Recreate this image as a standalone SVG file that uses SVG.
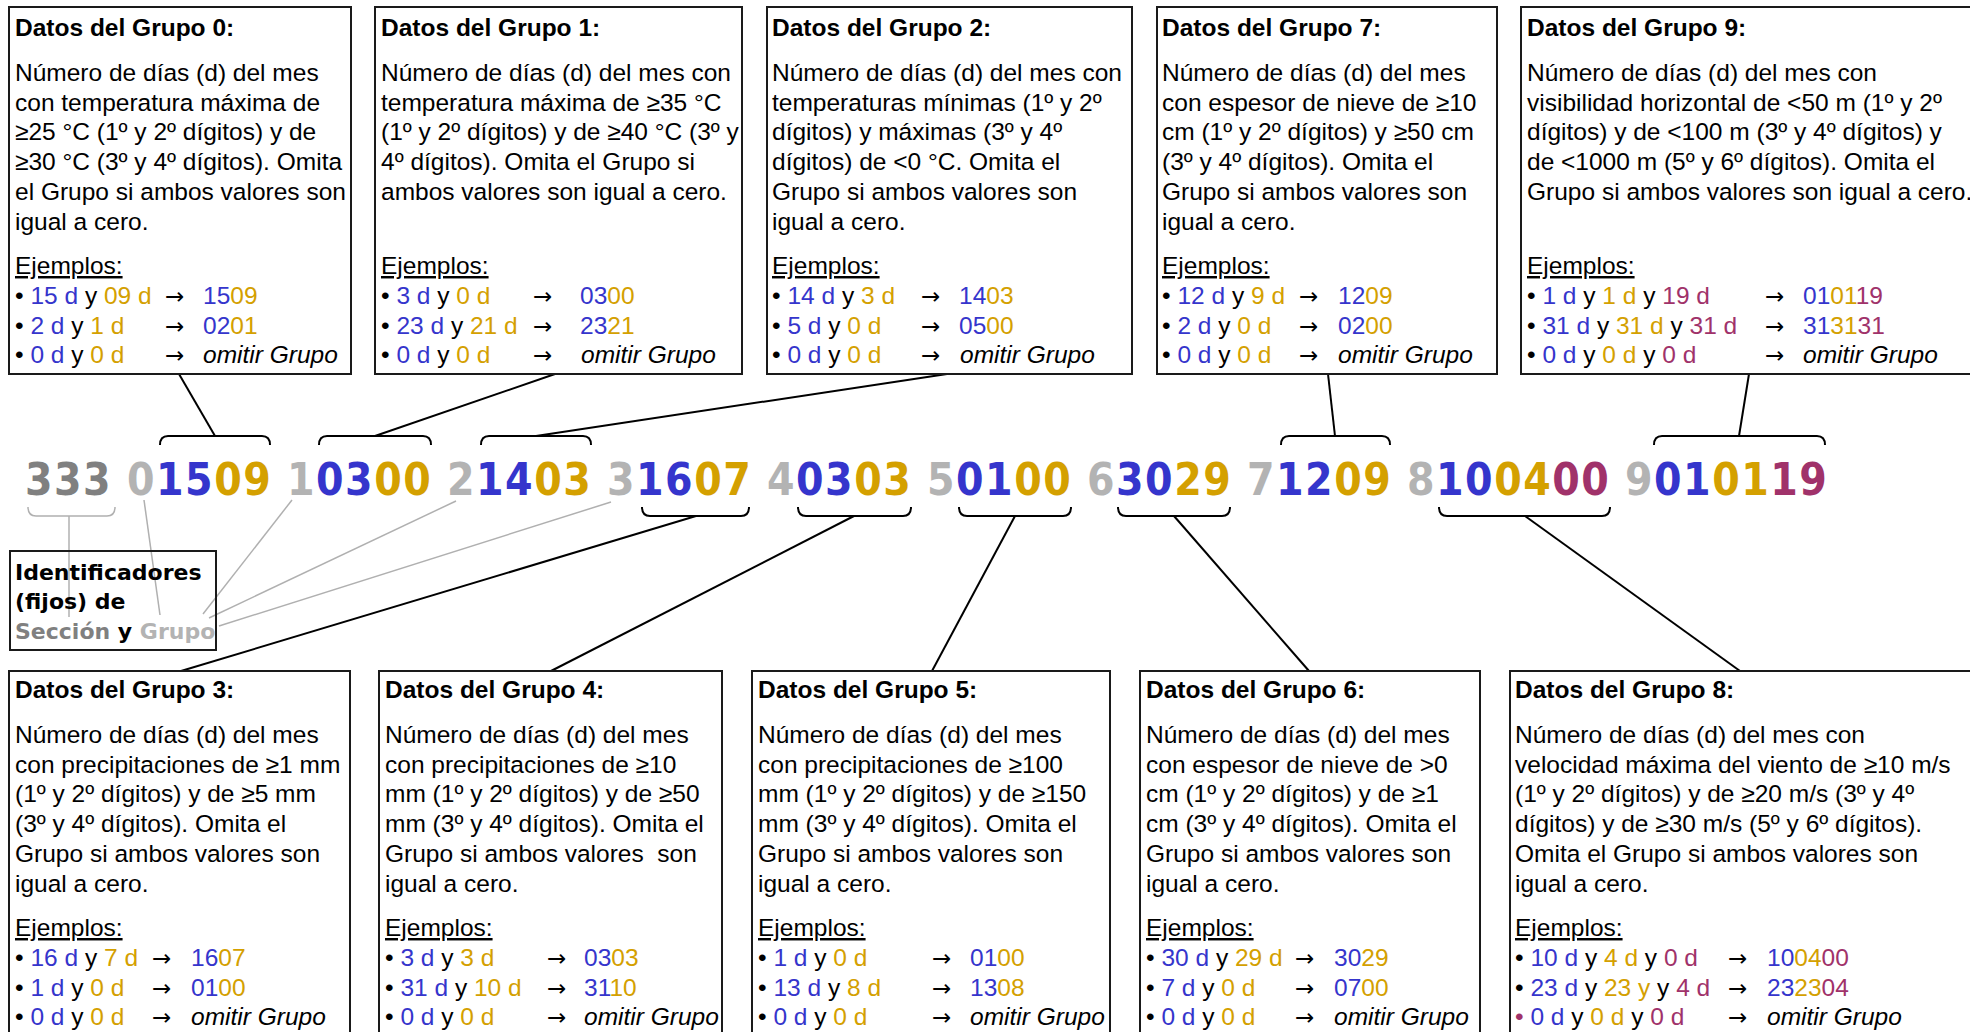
<svg xmlns="http://www.w3.org/2000/svg" width="1970" height="1032" viewBox="0 0 1970 1032">
<style>
.box{fill:none;stroke:#1a1a1a;stroke-width:2}
.t{font-family:'Liberation Sans',Arial,sans-serif;font-size:24.5px;fill:#000}
.h{font-weight:bold}
.u{text-decoration:underline}
.i{font-style:italic}
.b{fill:#3535CC}
.g{fill:#D4A000}
.m{fill:#A0326A}
.ar{font-family:'DejaVu Sans',sans-serif;font-size:23px}
.code{font-family:'DejaVu Sans Condensed','DejaVu Sans',sans-serif;font-stretch:condensed;font-weight:bold;font-size:44px;letter-spacing:1.5px}
.lbl{font-family:'DejaVu Sans','Liberation Sans',sans-serif;font-weight:bold;font-size:22px;fill:#000}
.sec{fill:#808080}
.gid{fill:#B3B3B3}
.con{fill:none;stroke:#000;stroke-width:2}
.gcon{fill:none;stroke:#B0B0B0;stroke-width:1.5}
</style>

<g id="connectors">
  <path class="con" d="M160,445 Q160,436 168,436 H262 Q270,436 270,445"/>
  <path class="con" d="M319,445 Q319,436 327,436 H423 Q431,436 431,445"/>
  <path class="con" d="M481,445 Q481,436 489,436 H583 Q591,436 591,445"/>
  <path class="con" d="M1281,445 Q1281,436 1289,436 H1382 Q1390,436 1390,445"/>
  <path class="con" d="M1654,445 Q1654,436 1662,436 H1817 Q1825,436 1825,445"/>
  <line class="con" x1="215" y1="436" x2="179" y2="374"/>
  <line class="con" x1="375" y1="436" x2="555" y2="374"/>
  <line class="con" x1="536" y1="436" x2="947" y2="374"/>
  <line class="con" x1="1335" y1="436" x2="1328" y2="374"/>
  <line class="con" x1="1739" y1="436" x2="1749" y2="374"/>
  <path class="con" d="M642,507 Q642,516 650,516 H741 Q749,516 749,507"/>
  <path class="con" d="M798,507 Q798,516 806,516 H903 Q911,516 911,507"/>
  <path class="con" d="M959,507 Q959,516 967,516 H1063 Q1071,516 1071,507"/>
  <path class="con" d="M1118,507 Q1118,516 1126,516 H1222 Q1230,516 1230,507"/>
  <path class="con" d="M1439,507 Q1439,516 1447,516 H1602 Q1610,516 1610,507"/>
  <line class="con" x1="696" y1="516" x2="181" y2="671"/>
  <line class="con" x1="854" y1="516" x2="551" y2="671"/>
  <line class="con" x1="1015" y1="516" x2="932" y2="671"/>
  <line class="con" x1="1174" y1="516" x2="1309" y2="671"/>
  <line class="con" x1="1525" y1="516" x2="1740" y2="671"/>
  <path class="gcon" d="M28,507 Q28,516 36,516 H107 Q115,516 115,507"/>
  <line class="gcon" x1="69" y1="516" x2="69" y2="617"/>
  <line class="gcon" x1="144" y1="500" x2="160" y2="615"/>
  <line class="gcon" x1="292" y1="500" x2="203" y2="614"/>
  <line class="gcon" x1="456" y1="501" x2="209" y2="618"/>
  <line class="gcon" x1="611" y1="502" x2="219" y2="626"/>
</g>

<g id="code">
  <text class="code" y="495">
    <tspan x="25" class="sec">333</tspan>
    <tspan x="127" class="gid">0</tspan><tspan class="b">15</tspan><tspan class="g">09</tspan>
    <tspan x="287" class="gid">1</tspan><tspan class="b">03</tspan><tspan class="g">00</tspan>
    <tspan x="447" class="gid">2</tspan><tspan class="b">14</tspan><tspan class="g">03</tspan>
    <tspan x="607" class="gid">3</tspan><tspan class="b">16</tspan><tspan class="g">07</tspan>
    <tspan x="767" class="gid">4</tspan><tspan class="b">03</tspan><tspan class="g">03</tspan>
    <tspan x="927" class="gid">5</tspan><tspan class="b">01</tspan><tspan class="g">00</tspan>
    <tspan x="1087" class="gid">6</tspan><tspan class="b">30</tspan><tspan class="g">29</tspan>
    <tspan x="1247" class="gid">7</tspan><tspan class="b">12</tspan><tspan class="g">09</tspan>
    <tspan x="1407" class="gid">8</tspan><tspan class="b">10</tspan><tspan class="g">04</tspan><tspan class="m">00</tspan>
    <tspan x="1625" class="gid">9</tspan><tspan class="b">01</tspan><tspan class="g">01</tspan><tspan class="m">19</tspan>
  </text>
</g>

<g id="ident">
  <rect class="box" x="10" y="551" width="206" height="99"/>
  <text class="lbl" x="15" y="580">Identificadores</text>
  <text class="lbl" x="15" y="609">(fijos) de</text>
  <text class="lbl" x="15" y="639"><tspan class="sec">Sección</tspan> y <tspan class="gid">Grupo</tspan></text>
</g>

<g id="g0" class="t">
  <rect class="box" x="9" y="7" width="342" height="367"/>
  <text x="15" y="36" class="h">Datos del Grupo 0:</text>
  <text x="15" y="81">Número de días (d) del mes</text>
  <text x="15" y="110.7">con temperatura máxima de</text>
  <text x="15" y="140.4">≥25 °C (1º y 2º dígitos) y de</text>
  <text x="15" y="170.1">≥30 °C (3º y 4º dígitos). Omita</text>
  <text x="15" y="199.8">el Grupo si ambos valores son</text>
  <text x="15" y="229.5">igual a cero.</text>
  <text x="15" y="274" class="u">Ejemplos:</text>
  <text x="15" y="304">• <tspan class="b">15 d</tspan> y <tspan class="g">09 d</tspan></text>
  <text x="165" y="304" class="ar">→</text>
  <text x="203" y="304"><tspan class="b">15</tspan><tspan class="g">09</tspan></text>
  <text x="15" y="333.5">• <tspan class="b">2 d</tspan> y <tspan class="g">1 d</tspan></text>
  <text x="165" y="333.5" class="ar">→</text>
  <text x="203" y="333.5"><tspan class="b">02</tspan><tspan class="g">01</tspan></text>
  <text x="15" y="363">• <tspan class="b">0 d</tspan> y <tspan class="g">0 d</tspan></text>
  <text x="165" y="363" class="ar">→</text>
  <text x="203" y="363" class="i">omitir Grupo</text>
</g>

<g id="g1" class="t">
  <rect class="box" x="375" y="7" width="367" height="367"/>
  <text x="381" y="36" class="h">Datos del Grupo 1:</text>
  <text x="381" y="81">Número de días (d) del mes con</text>
  <text x="381" y="110.7">temperatura máxima de ≥35 °C</text>
  <text x="381" y="140.4">(1º y 2º dígitos) y de ≥40 °C (3º y</text>
  <text x="381" y="170.1">4º dígitos). Omita el Grupo si</text>
  <text x="381" y="199.8">ambos valores son igual a cero.</text>
  <text x="381" y="274" class="u">Ejemplos:</text>
  <text x="381" y="304">• <tspan class="b">3 d</tspan> y <tspan class="g">0 d</tspan></text>
  <text x="533" y="304" class="ar">→</text>
  <text x="580" y="304"><tspan class="b">03</tspan><tspan class="g">00</tspan></text>
  <text x="381" y="333.5">• <tspan class="b">23 d</tspan> y <tspan class="g">21 d</tspan></text>
  <text x="533" y="333.5" class="ar">→</text>
  <text x="580" y="333.5"><tspan class="b">23</tspan><tspan class="g">21</tspan></text>
  <text x="381" y="363">• <tspan class="b">0 d</tspan> y <tspan class="g">0 d</tspan></text>
  <text x="533" y="363" class="ar">→</text>
  <text x="581" y="363" class="i">omitir Grupo</text>
</g>

<g id="g2" class="t">
  <rect class="box" x="767" y="7" width="365" height="367"/>
  <text x="772" y="36" class="h">Datos del Grupo 2:</text>
  <text x="772" y="81">Número de días (d) del mes con</text>
  <text x="772" y="110.7">temperaturas mínimas (1º y 2º</text>
  <text x="772" y="140.4">dígitos) y máximas (3º y 4º</text>
  <text x="772" y="170.1">dígitos) de &lt;0 °C. Omita el</text>
  <text x="772" y="199.8">Grupo si ambos valores son</text>
  <text x="772" y="229.5">igual a cero.</text>
  <text x="772" y="274" class="u">Ejemplos:</text>
  <text x="772" y="304">• <tspan class="b">14 d</tspan> y <tspan class="g">3 d</tspan></text>
  <text x="921" y="304" class="ar">→</text>
  <text x="959" y="304"><tspan class="b">14</tspan><tspan class="g">03</tspan></text>
  <text x="772" y="333.5">• <tspan class="b">5 d</tspan> y <tspan class="g">0 d</tspan></text>
  <text x="921" y="333.5" class="ar">→</text>
  <text x="959" y="333.5"><tspan class="b">05</tspan><tspan class="g">00</tspan></text>
  <text x="772" y="363">• <tspan class="b">0 d</tspan> y <tspan class="g">0 d</tspan></text>
  <text x="921" y="363" class="ar">→</text>
  <text x="960" y="363" class="i">omitir Grupo</text>
</g>

<g id="g7" class="t">
  <rect class="box" x="1157" y="7" width="340" height="367"/>
  <text x="1162" y="36" class="h">Datos del Grupo 7:</text>
  <text x="1162" y="81">Número de días (d) del mes</text>
  <text x="1162" y="110.7">con espesor de nieve de ≥10</text>
  <text x="1162" y="140.4">cm (1º y 2º dígitos) y ≥50 cm</text>
  <text x="1162" y="170.1">(3º y 4º dígitos). Omita el</text>
  <text x="1162" y="199.8">Grupo si ambos valores son</text>
  <text x="1162" y="229.5">igual a cero.</text>
  <text x="1162" y="274" class="u">Ejemplos:</text>
  <text x="1162" y="304">• <tspan class="b">12 d</tspan> y <tspan class="g">9 d</tspan></text>
  <text x="1299" y="304" class="ar">→</text>
  <text x="1338" y="304"><tspan class="b">12</tspan><tspan class="g">09</tspan></text>
  <text x="1162" y="333.5">• <tspan class="b">2 d</tspan> y <tspan class="g">0 d</tspan></text>
  <text x="1299" y="333.5" class="ar">→</text>
  <text x="1338" y="333.5"><tspan class="b">02</tspan><tspan class="g">00</tspan></text>
  <text x="1162" y="363">• <tspan class="b">0 d</tspan> y <tspan class="g">0 d</tspan></text>
  <text x="1299" y="363" class="ar">→</text>
  <text x="1338" y="363" class="i">omitir Grupo</text>
</g>

<g id="g9" class="t">
  <rect class="box" x="1521" y="7" width="470" height="367"/>
  <text x="1527" y="36" class="h">Datos del Grupo 9:</text>
  <text x="1527" y="81">Número de días (d) del mes con</text>
  <text x="1527" y="110.7">visibilidad horizontal de &lt;50 m (1º y 2º</text>
  <text x="1527" y="140.4">dígitos) y de &lt;100 m (3º y 4º dígitos) y</text>
  <text x="1527" y="170.1">de &lt;1000 m (5º y 6º dígitos). Omita el</text>
  <text x="1527" y="199.8">Grupo si ambos valores son igual a cero.</text>
  <text x="1527" y="274" class="u">Ejemplos:</text>
  <text x="1527" y="304">• <tspan class="b">1 d</tspan> y <tspan class="g">1 d</tspan> y <tspan class="m">19 d</tspan></text>
  <text x="1765" y="304" class="ar">→</text>
  <text x="1803" y="304"><tspan class="b">01</tspan><tspan class="g">01</tspan><tspan class="m">19</tspan></text>
  <text x="1527" y="333.5">• <tspan class="b">31 d</tspan> y <tspan class="g">31 d</tspan> y <tspan class="m">31 d</tspan></text>
  <text x="1765" y="333.5" class="ar">→</text>
  <text x="1803" y="333.5"><tspan class="b">31</tspan><tspan class="g">31</tspan><tspan class="m">31</tspan></text>
  <text x="1527" y="363">• <tspan class="b">0 d</tspan> y <tspan class="g">0 d</tspan> y <tspan class="m">0 d</tspan></text>
  <text x="1765" y="363" class="ar">→</text>
  <text x="1803" y="363" class="i">omitir Grupo</text>
</g>

<g id="g3" class="t">
  <rect class="box" x="9" y="671" width="341" height="380"/>
  <text x="15" y="698" class="h">Datos del Grupo 3:</text>
  <text x="15" y="743">Número de días (d) del mes</text>
  <text x="15" y="772.7">con precipitaciones de ≥1 mm</text>
  <text x="15" y="802.4">(1º y 2º dígitos) y de ≥5 mm</text>
  <text x="15" y="832.1">(3º y 4º dígitos). Omita el</text>
  <text x="15" y="861.8">Grupo si ambos valores son</text>
  <text x="15" y="891.5">igual a cero.</text>
  <text x="15" y="936" class="u">Ejemplos:</text>
  <text x="15" y="966">• <tspan class="b">16 d</tspan> y <tspan class="g">7 d</tspan></text>
  <text x="152" y="966" class="ar">→</text>
  <text x="191" y="966"><tspan class="b">16</tspan><tspan class="g">07</tspan></text>
  <text x="15" y="995.5">• <tspan class="b">1 d</tspan> y <tspan class="g">0 d</tspan></text>
  <text x="152" y="995.5" class="ar">→</text>
  <text x="191" y="995.5"><tspan class="b">01</tspan><tspan class="g">00</tspan></text>
  <text x="15" y="1025">• <tspan class="b">0 d</tspan> y <tspan class="g">0 d</tspan></text>
  <text x="152" y="1025" class="ar">→</text>
  <text x="191" y="1025" class="i">omitir Grupo</text>
</g>

<g id="g4" class="t">
  <rect class="box" x="379" y="671" width="343" height="380"/>
  <text x="385" y="698" class="h">Datos del Grupo 4:</text>
  <text x="385" y="743">Número de días (d) del mes</text>
  <text x="385" y="772.7">con precipitaciones de ≥10</text>
  <text x="385" y="802.4">mm (1º y 2º dígitos) y de ≥50</text>
  <text x="385" y="832.1">mm (3º y 4º dígitos). Omita el</text>
  <text x="385" y="861.8" style="white-space:pre">Grupo si ambos valores  son</text>
  <text x="385" y="891.5">igual a cero.</text>
  <text x="385" y="936" class="u">Ejemplos:</text>
  <text x="385" y="966">• <tspan class="b">3 d</tspan> y <tspan class="g">3 d</tspan></text>
  <text x="547" y="966" class="ar">→</text>
  <text x="584" y="966"><tspan class="b">03</tspan><tspan class="g">03</tspan></text>
  <text x="385" y="995.5">• <tspan class="b">31 d</tspan> y <tspan class="g">10 d</tspan></text>
  <text x="547" y="995.5" class="ar">→</text>
  <text x="584" y="995.5"><tspan class="b">31</tspan><tspan class="g">10</tspan></text>
  <text x="385" y="1025">• <tspan class="b">0 d</tspan> y <tspan class="g">0 d</tspan></text>
  <text x="547" y="1025" class="ar">→</text>
  <text x="584" y="1025" class="i">omitir Grupo</text>
</g>

<g id="g5" class="t">
  <rect class="box" x="752" y="671" width="358" height="380"/>
  <text x="758" y="698" class="h">Datos del Grupo 5:</text>
  <text x="758" y="743">Número de días (d) del mes</text>
  <text x="758" y="772.7">con precipitaciones de ≥100</text>
  <text x="758" y="802.4">mm (1º y 2º dígitos) y de ≥150</text>
  <text x="758" y="832.1">mm (3º y 4º dígitos). Omita el</text>
  <text x="758" y="861.8">Grupo si ambos valores son</text>
  <text x="758" y="891.5">igual a cero.</text>
  <text x="758" y="936" class="u">Ejemplos:</text>
  <text x="758" y="966">• <tspan class="b">1 d</tspan> y <tspan class="g">0 d</tspan></text>
  <text x="932" y="966" class="ar">→</text>
  <text x="970" y="966"><tspan class="b">01</tspan><tspan class="g">00</tspan></text>
  <text x="758" y="995.5">• <tspan class="b">13 d</tspan> y <tspan class="g">8 d</tspan></text>
  <text x="932" y="995.5" class="ar">→</text>
  <text x="970" y="995.5"><tspan class="b">13</tspan><tspan class="g">08</tspan></text>
  <text x="758" y="1025">• <tspan class="b">0 d</tspan> y <tspan class="g">0 d</tspan></text>
  <text x="932" y="1025" class="ar">→</text>
  <text x="970" y="1025" class="i">omitir Grupo</text>
</g>

<g id="g6" class="t">
  <rect class="box" x="1140" y="671" width="340" height="380"/>
  <text x="1146" y="698" class="h">Datos del Grupo 6:</text>
  <text x="1146" y="743">Número de días (d) del mes</text>
  <text x="1146" y="772.7">con espesor de nieve de &gt;0</text>
  <text x="1146" y="802.4">cm (1º y 2º dígitos) y de ≥1</text>
  <text x="1146" y="832.1">cm (3º y 4º dígitos). Omita el</text>
  <text x="1146" y="861.8">Grupo si ambos valores son</text>
  <text x="1146" y="891.5">igual a cero.</text>
  <text x="1146" y="936" class="u">Ejemplos:</text>
  <text x="1146" y="966">• <tspan class="b">30 d</tspan> y <tspan class="g">29 d</tspan></text>
  <text x="1295" y="966" class="ar">→</text>
  <text x="1334" y="966"><tspan class="b">30</tspan><tspan class="g">29</tspan></text>
  <text x="1146" y="995.5">• <tspan class="b">7 d</tspan> y <tspan class="g">0 d</tspan></text>
  <text x="1295" y="995.5" class="ar">→</text>
  <text x="1334" y="995.5"><tspan class="b">07</tspan><tspan class="g">00</tspan></text>
  <text x="1146" y="1025">• <tspan class="b">0 d</tspan> y <tspan class="g">0 d</tspan></text>
  <text x="1295" y="1025" class="ar">→</text>
  <text x="1334" y="1025" class="i">omitir Grupo</text>
</g>

<g id="g8" class="t">
  <rect class="box" x="1510" y="671" width="480" height="380"/>
  <text x="1515" y="698" class="h">Datos del Grupo 8:</text>
  <text x="1515" y="743">Número de días (d) del mes con</text>
  <text x="1515" y="772.7">velocidad máxima del viento de ≥10 m/s</text>
  <text x="1515" y="802.4">(1º y 2º dígitos) y de ≥20 m/s (3º y 4º</text>
  <text x="1515" y="832.1">dígitos) y de ≥30 m/s (5º y 6º dígitos).</text>
  <text x="1515" y="861.8">Omita el Grupo si ambos valores son</text>
  <text x="1515" y="891.5">igual a cero.</text>
  <text x="1515" y="936" class="u">Ejemplos:</text>
  <text x="1515" y="966">• <tspan class="b">10 d</tspan> y <tspan class="g">4 d</tspan> y <tspan class="m">0 d</tspan></text>
  <text x="1728" y="966" class="ar">→</text>
  <text x="1767" y="966"><tspan class="b">10</tspan><tspan class="g">04</tspan><tspan class="m">00</tspan></text>
  <text x="1515" y="995.5">• <tspan class="b">23 d</tspan> y <tspan class="g">23 y</tspan> y <tspan class="m">4 d</tspan></text>
  <text x="1728" y="995.5" class="ar">→</text>
  <text x="1767" y="995.5"><tspan class="b">23</tspan><tspan class="g">23</tspan><tspan class="m">04</tspan></text>
  <text x="1515" y="1025"><tspan class="m">•</tspan> <tspan class="b">0 d</tspan> y <tspan class="g">0 d</tspan> y <tspan class="m">0 d</tspan></text>
  <text x="1728" y="1025" class="ar">→</text>
  <text x="1767" y="1025" class="i">omitir Grupo</text>
</g>
</svg>
